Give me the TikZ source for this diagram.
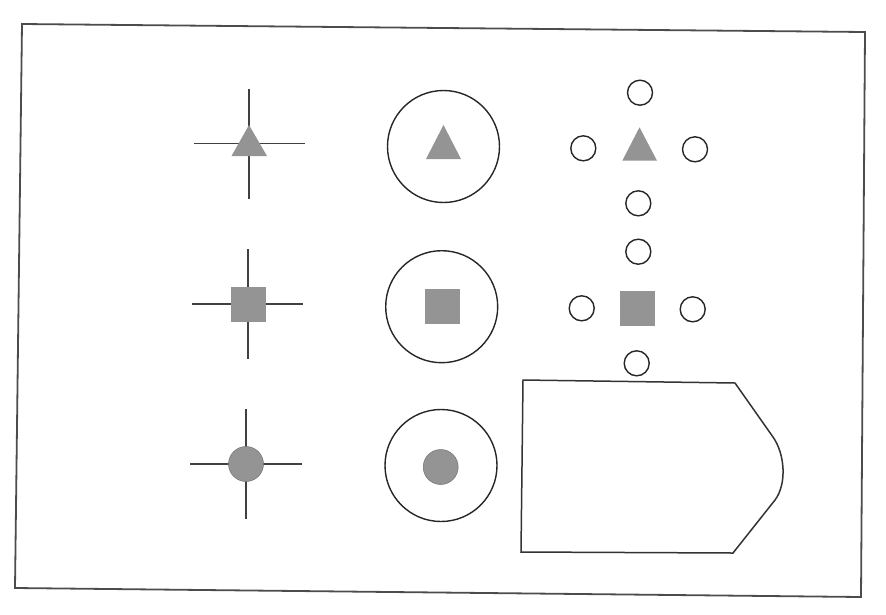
\documentclass[tikz,border=0pt]{standalone}
\usetikzlibrary{shapes.geometric}
\begin{document}
\begin{tikzpicture}[x=1pt,y=-1pt,
  ln/.style={draw=black!75, line width=1.6pt},
  frame/.style={draw=black!70, line width=1.8pt, line join=miter},
  grey/.style={fill=black!42},
  bigc/.style={circle, draw=black!85, line width=1.4pt, minimum size=112pt, inner sep=0pt},
  smallc/.style={circle, draw=black!85, line width=1.4pt, minimum size=25pt, inner sep=0pt},
  sqr/.style={rectangle, fill=black!42, minimum size=35pt, inner sep=0pt},
  dotc/.style={circle, fill=black!42, draw=black!55, line width=0.5pt, minimum size=35pt, inner sep=0pt}]
\useasboundingbox (0,0) rectangle (886,614);
% outer frame
\draw[frame] (22,24) -- (865,32) -- (861,597) -- (15,588) -- cycle;

% left column: crosshairs
\coordinate (x1) at (249,143.5);
\coordinate (x2) at (248,304);
\coordinate (x3) at (246,464);
\draw[ln] (x1) ++(0,-54.5) -- ++(0,110);
\draw[ln] (x1) ++(-55,0) -- ++(111,0);
\fill[grey] (249,125) -- (267,156) -- (231.5,156) -- cycle;
\draw[ln] (x2) ++(0,-55) -- ++(0,110);
\draw[ln] (x2) ++(-56,0) -- ++(111,0);
\node[sqr] (s1) at (x2) {};
\draw[ln] (x3) ++(0,-55) -- ++(0,110);
\draw[ln] (x3) ++(-56,0) -- ++(112,0);
\node[dotc] (d1) at (x3) {};

% middle column: rings
\node[bigc] (r1) at (443.5,146.5) {};
\fill[grey] (443.5,125) -- (461,159) -- (426,159) -- cycle;
\node[bigc] (r2) at (441.7,306.7) {};
\node[sqr] (s2) at (442,306.5) {};
\node[bigc] (r3) at (441,465.5) {};
\node[dotc] (d2) at (440.7,467) {};

% right column: small circles
\node[smallc] (t1) at (640,92.7) {};
\node[smallc] (t2) at (583.3,148.3) {};
\fill[grey] (639.5,127.3) -- (657,160.7) -- (622.3,160.7) -- cycle;
\node[smallc] (t3) at (695,149.3) {};
\node[smallc] (t4) at (638.3,203.3) {};
\node[smallc] (u1) at (638.3,251.7) {};
\node[smallc] (u2) at (581.7,308.3) {};
\node[sqr] (s3) at (637.8,308.3) {};
\node[smallc] (u3) at (692.7,309.3) {};
\node[smallc] (u4) at (636.7,363.3) {};

% tag shape
\draw[draw=black!80, line width=1.5pt, line join=miter]
  (523,380) -- (735,383) -- (773,437)
  .. controls (785,454) and (787,484) .. (775,500)
  -- (733,553) -- (521,552) -- cycle;
\end{tikzpicture}
\end{document}
